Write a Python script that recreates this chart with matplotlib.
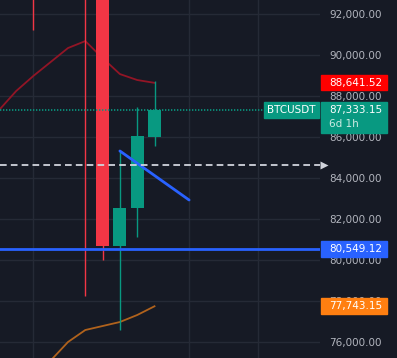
import matplotlib
matplotlib.use("Agg")
import matplotlib.pyplot as plt
from matplotlib.patches import Rectangle
from matplotlib.transforms import blended_transform_factory

# weekly candles (index 0 = first visible wick), only the visible ones
candle_idx = [0, 3, 4, 5, 6, 7]
opens = [95000, 94800, 94300, 80698, 82520, 86016]
closes = [93500, 93000, 80698, 82520, 86049, 87333.15]
highs = [96000, 96000, 95000, 85318, 87463, 88732]
lows = [91220, 78244, 80000, 76585, 81137, 85560]

# moving averages
ma_red_idx = [-2, -1, 0, 1, 2, 3, 4, 5, 6, 7]
ma_red = [87300, 88240, 88980, 89660, 90340, 90680, 89850, 89070, 88780, 88641.52]
ma_orange_idx = [1, 2, 3, 4, 5, 6, 7]
ma_orange = [75098, 76000, 76585, 76780, 76976, 77317, 77743.15]

# drawings
trend_idx = [5, 9]
trend_vals = [85318, 82927]
support = 80549.12
dash_level = 84634
last_price = 87333.15

yticks = [76000, 78000, 80000, 82000, 84000, 86000, 88000, 90000, 92000]
vgrid_idx = [0, 9, 13]

bg = "#161a25"
grid_c = "#252a36"
up_c = "#089981"
down_c = "#f23645"

W, H = 397, 358
plot_w = 320
px_per_idx = 17.3
ymin, ymax = 75220, 92683
per_px = (ymax - ymin) / H

fig = plt.figure(figsize=(W / 100, H / 100), dpi=100, facecolor=bg)
ax = fig.add_axes([0, 0, plot_w / W, 1])
ax.set_facecolor(bg)
ax.set_xlim(-33.4 / px_per_idx, (plot_w - 33.4) / px_per_idx)
ax.set_ylim(ymin, ymax)

for v in yticks:
    ax.axhline(v, color=grid_c, lw=1, zorder=0)
for x in vgrid_idx:
    ax.axvline(x, color=grid_c, lw=1, zorder=0)

# candles
for i, o, c, h, l in zip(candle_idx, opens, closes, highs, lows):
    col = up_c if c >= o else down_c
    ax.vlines(i, l, h, color=col, lw=1, zorder=3)
    ax.bar(i, abs(c - o), bottom=min(o, c), width=0.75, color=col, zorder=4)

ax.plot(ma_red_idx, ma_red, color="#921526", lw=1.3, zorder=2)
ax.plot(ma_orange_idx, ma_orange, color="#b0621c", lw=1.3, zorder=2)

ax.axhline(support, color="#2962ff", lw=2, zorder=5)
ax.plot(trend_idx, trend_vals, color="#2962ff", lw=2, zorder=5, solid_capstyle="round")
ax.axhline(dash_level, color="#d1d4dc", lw=1.3, ls=(0, (3.7, 2.3)), zorder=5)
ax.axhline(last_price, xmax=263 / plot_w, color=up_c, lw=1.2, ls=(0, (0.8, 1.0)), zorder=5)

trans = blended_transform_factory(ax.transAxes, ax.transData)
ax.plot(1.013, dash_level, marker=">", ms=6, color="#d1d4dc", mec="none",
        transform=trans, clip_on=False, zorder=6)

for s in ax.spines.values():
    s.set_visible(False)
ax.set_xticks([])
ax.yaxis.tick_right()
ax.set_yticks(yticks)
ax.set_yticklabels([f"{v:,.2f}" for v in yticks])
ax.tick_params(axis="y", length=0, pad=6.5, labelsize=7.5, labelcolor="#b2b5be")


def price_box(val, color, top_px, bot_px, x0=321, x1=387):
    ax.add_patch(Rectangle((x0 / plot_w, val - bot_px * per_px), (x1 - x0) / plot_w,
                           (top_px + bot_px) * per_px, color=color, transform=trans,
                           clip_on=False, zorder=10))


price_box(ma_red[-1], "#ff0000", 7.5, 7.5)
ax.text(329 / plot_w, ma_red[-1], f"{ma_red[-1]:,.2f}", color="white", fontsize=7.5,
        va="center", ha="left", transform=trans, zorder=11)
price_box(support, "#2962ff", 8, 8)
ax.text(329 / plot_w, support, f"{support:,.2f}", color="white", fontsize=7.5,
        va="center", ha="left", transform=trans, zorder=11)
price_box(ma_orange[-1], "#ff7f11", 8, 8)
ax.text(329 / plot_w, ma_orange[-1], f"{ma_orange[-1]:,.2f}", color="white", fontsize=7.5,
        va="center", ha="left", transform=trans, zorder=11)

price_box(last_price, up_c, 8, 23)
ax.text(329 / plot_w, last_price, f"{last_price:,.2f}", color="white", fontsize=7.5,
        va="center", ha="left", transform=trans, zorder=11)
ax.text(329 / plot_w, last_price - 14 * per_px, "6d 1h", color="#cdebe3", fontsize=7.5,
        va="center", ha="left", transform=trans, zorder=11)

price_box(last_price, up_c, 8, 8, x0=264, x1=319)
ax.text(291.5 / plot_w, last_price, "BTCUSDT", color="white", fontsize=7.5,
        va="center", ha="center", transform=trans, zorder=11)

fig.savefig("out.png", dpi=100, facecolor=bg)
